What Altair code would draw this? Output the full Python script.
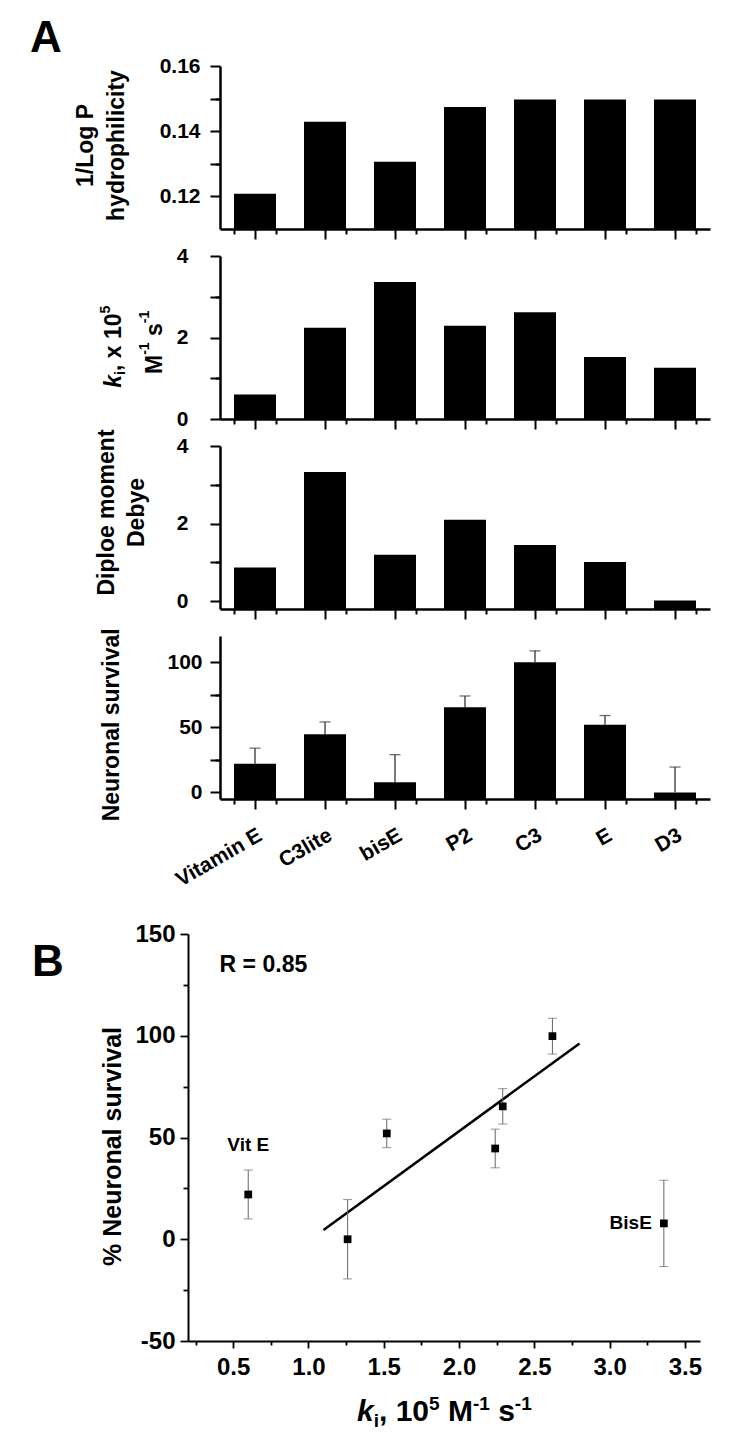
import altair as alt
import pandas as pd

# ---------------- data ----------------
categories = ["Vitamin E", "C3lite", "bisE", "P2", "C3", "E", "D3"]
hydrophilicity = [0.1208, 0.1429, 0.1306, 0.1474, 0.1497, 0.1497, 0.1497]
ki_values = [0.60, 2.24, 3.36, 2.29, 2.62, 1.52, 1.26]
dipole = [0.87, 3.33, 1.20, 2.10, 1.45, 1.01, 0.02]
survival = [22.0, 44.6, 7.8, 65.3, 99.8, 52.0, 0.0]
survival_err = [12.0, 9.5, 21.2, 8.7, 8.8, 7.0, 19.5]
point_labels = ["Vit E", "C3lite", "BisE", "P2", "C3", "E", "D3"]
in_fit = [False, True, False, True, True, True, True]

hydro_major, hydro_minor = [0.12, 0.14, 0.16], [0.13, 0.15]
ki_major, ki_minor = [0, 2, 4], [1, 3]
dip_major, dip_minor = [0, 2, 4], [1, 3]
surv_major, surv_minor = [0, 50, 100], [25, 75]
bx_major = [0.5, 1.0, 1.5, 2.0, 2.5, 3.0, 3.5]
bx_minor = [0.25, 0.75, 1.25, 1.75, 2.25, 2.75, 3.25]
by_major = [-50, 0, 50, 100, 150]
by_minor = [-25, 25, 75, 125]
r_text = ["R = 0.85"]
r_pos_x = [0.41]
r_pos_y = [135]

FONT = "Liberation Sans"
PH = 163
AW = 522
SHIFT = 32
BW, BH = 512, 407
GAP = 27

df = pd.DataFrame({
    "name": categories, "label": point_labels, "hydro": hydrophilicity,
    "ki": ki_values, "dipole": dipole, "surv": survival,
    "err": survival_err, "fit": in_fit,
})

ARIAL_BOLD = {"k": .556, "i": .278, ",": .278, " ": .278, "x": .556, "M": .833,
              "s": .556, "-": .333, "0": .556, "1": .556, "5": .556}


def rich_pieces(segments, start, base, angle):
    """Rich text (italic / sub / superscript) laid out piece by piece."""
    charts = []
    pos = 0.0
    for text, size, italic, shift in segments:
        lead = len(text) - len(text.lstrip(" "))
        pos += lead * ARIAL_BOLD[" "] * size
        text = text.lstrip(" ")
        if angle == 0:
            x, y = start + pos, base + shift
        else:
            x, y = base + shift, start - pos
        ch = alt.Chart(pd.DataFrame({"t": [text]})).mark_text(
            fontSize=size, fontWeight="bold",
            fontStyle="italic" if italic else "normal",
            align="left", baseline="alphabetic", angle=angle, color="black",
            font=FONT,
        ).encode(text="t:N", x=alt.value(x), y=alt.value(y))
        charts.append(ch)
        pos += sum(ARIAL_BOLD[c] for c in text) * size
    return charts


def letter(txt, x, y):
    return alt.Chart(pd.DataFrame({"t": [txt]})).mark_text(
        fontSize=44, fontWeight="bold", align="left", baseline="alphabetic",
        color="black", font=FONT,
    ).encode(text="t:N", x=alt.value(x), y=alt.value(y))


xscale = alt.Scale(domain=categories, range=[SHIFT, AW], paddingInner=0.4, paddingOuter=0.2)


def x_major(labels):
    return alt.X("name:N", sort=categories, scale=xscale, title=None,
                 axis=alt.Axis(orient="bottom", labels=labels, labelAngle=-30,
                               labelAlign="right", labelBaseline="top",
                               labelPadding=15, labelFontSize=21,
                               tickSize=10, tickWidth=2, domainWidth=2.5))


def x_minor():
    return alt.X("name:N", sort=categories, scale=xscale, title=None,
                 axis=alt.Axis(orient="bottom", labels=False, domain=False,
                               tickBand="extent", tickSize=5, tickWidth=2))


def x_none():
    return alt.X("name:N", sort=categories, scale=xscale, axis=None)


def bar_panel(field, domain, major, minor, fmt, pad, title_kw, letter_chart=None,
              show_labels=False, extra=None):
    yscale = alt.Scale(domain=domain, zero=False, nice=False)
    label_expr = f"indexof({major}, datum.value) >= 0 ? {fmt} : ''"
    y_major = alt.Y(f"{field}:Q", scale=yscale, stack=None,
                    axis=alt.Axis(orient="left", offset=-SHIFT, values=major + minor,
                                  labelExpr=label_expr, tickSize=10, tickWidth=2,
                                  domainWidth=2.5, labelPadding=pad, labelFontSize=21,
                                  **title_kw))
    y_minor = alt.Y(f"{field}:Q", scale=yscale,
                    axis=alt.Axis(orient="left", offset=-SHIFT, values=minor,
                                  labels=False, domain=False, tickSize=5,
                                  tickWidth=2, title=None))
    bars = alt.Chart(df).mark_bar(color="black").encode(
        x=x_major(show_labels), y=y_major, y2=alt.datum(domain[0]))
    minor_layer = alt.Chart(df).mark_point(opacity=0).encode(x=x_minor(), y=y_minor)
    layers = [bars, minor_layer]
    if extra:
        layers += extra
    if letter_chart is not None:
        layers.append(letter_chart)
    return alt.layer(*layers).resolve_axis(x="independent", y="independent").properties(
        width=AW, height=PH)


# Panel 1
p1 = bar_panel("hydro", [0.11, 0.16], hydro_major, hydro_minor,
               "format(datum.value, '.2f')", 10,
               dict(title=["1/Log P", "hydrophilicity"], titleAngle=270, titleX=-128,
                    titleY=79, titleAlign="center", titleBaseline="alphabetic",
                    titleLineHeight=31.6, titleFontSize=23),
               letter_chart=letter("A", -158, -14))

# Panel 2 (rich-text title)
ki_title = rich_pieces([("k", 23, True, 0), ("i", 14, False, 4),
                        (", x 10", 23, False, 0), ("5", 14, False, -11)],
                       start=131.7, base=-67, angle=270)
ki_title += rich_pieces([("M", 23, False, 0), ("-1", 14, False, -13),
                         (" s", 23, False, 0), ("-1", 14, False, -13)],
                        start=118, base=-26.3, angle=270)
p2 = bar_panel("ki", [0, 4], ki_major, ki_minor, "toString(datum.value)", 22,
               dict(title=None), extra=ki_title)

# Panel 3
p3 = bar_panel("dipole", [-0.2, 4], dip_major, dip_minor, "toString(datum.value)", 22,
               dict(title=["Diploe moment", "Debye"], titleAngle=270, titleX=-106.5,
                    titleY=66, titleAlign="center", titleBaseline="alphabetic",
                    titleLineHeight=30, titleFontSize=23))

# Panel 4 with error bars
err_base = alt.Chart(df).transform_calculate(hi="datum.surv + datum.err")
err_rule = err_base.mark_rule(color="#333333", strokeWidth=1.3).encode(
    x=x_none(), y=alt.Y("surv:Q", axis=None), y2="hi:Q")
err_cap = err_base.mark_tick(orient="horizontal", size=11, thickness=1.3,
                             color="#333333").encode(
    x=x_none(), y=alt.Y("hi:Q", axis=None))
p4 = bar_panel("surv", [-5, 120], surv_major, surv_minor, "toString(datum.value)", 8,
               dict(title="Neuronal survival", titleAngle=270, titleX=-101.7,
                    titleY=88.3, titleAlign="center", titleBaseline="alphabetic",
                    titleFontSize=23),
               show_labels=True, extra=[err_rule, err_cap])

# spacer between panel A and panel B
spacer = alt.Chart(df).mark_point(opacity=0).encode(
    x=alt.value(0), y=alt.value(0)).properties(width=10, height=135 - 2 * GAP)

# ---------------- Panel B ----------------
bxs = alt.Scale(domain=[0.2, 3.6], zero=False, nice=False)
bys = alt.Scale(domain=[-50, 150], zero=False, nice=False)

bx_major_enc = alt.X("ki:Q", scale=bxs, title=None,
                     axis=alt.Axis(orient="bottom", values=bx_major,
                                   labelExpr="format(datum.value, '.1f')",
                                   tickSize=7, tickWidth=1.8, domainWidth=2,
                                   labelPadding=7, labelFontSize=24))
by_major_enc = alt.Y("surv:Q", scale=bys,
                     axis=alt.Axis(orient="left", values=by_major,
                                   labelExpr="toString(datum.value)",
                                   tickSize=8, tickWidth=1.8, domainWidth=2,
                                   labelPadding=5, labelFontSize=24,
                                   title="% Neuronal survival", titleAngle=270,
                                   titleX=-68, titleY=212, titleAlign="center",
                                   titleBaseline="alphabetic", titleFontSize=25))

pts = alt.Chart(df).mark_square(size=60, color="black", opacity=1).encode(
    x=bx_major_enc, y=by_major_enc)
minor_b = alt.Chart(df).mark_point(opacity=0).encode(
    x=alt.X("ki:Q", scale=bxs, axis=alt.Axis(orient="bottom", values=bx_minor, labels=False,
                                              domain=False, tickSize=4, tickWidth=1.8,
                                              title=None)),
    y=alt.Y("surv:Q", scale=bys, axis=alt.Axis(orient="left", values=by_minor, labels=False,
                                                domain=False, tickSize=5, tickWidth=1.8,
                                                title=None)))

eb = alt.Chart(df).transform_calculate(lo="datum.surv - datum.err",
                                       hi="datum.surv + datum.err")
eb_rule = eb.mark_rule(color="#666666", strokeWidth=1).encode(
    x=alt.X("ki:Q", scale=bxs, axis=None), y=alt.Y("lo:Q", scale=bys, axis=None), y2="hi:Q")
eb_lo = eb.mark_tick(orient="horizontal", size=9, thickness=1, color="#666666").encode(
    x=alt.X("ki:Q", scale=bxs, axis=None), y=alt.Y("lo:Q", scale=bys, axis=None))
eb_hi = eb.mark_tick(orient="horizontal", size=9, thickness=1, color="#666666").encode(
    x=alt.X("ki:Q", scale=bxs, axis=None), y=alt.Y("hi:Q", scale=bys, axis=None))

fit_line = alt.Chart(df).transform_filter("datum.fit").transform_regression(
    "ki", "surv", extent=[1.1, 2.8]).mark_line(color="black", strokeWidth=2.5).encode(
    x=alt.X("ki:Q", scale=bxs, axis=None), y=alt.Y("surv:Q", scale=bys, axis=None))

vit_lbl = alt.Chart(df).transform_filter("datum.label == 'Vit E'").mark_text(
    fontSize=19, fontWeight="bold", dy=-49, baseline="middle", align="center",
    color="black", font=FONT).encode(
    x=alt.X("ki:Q", scale=bxs, axis=None), y=alt.Y("surv:Q", scale=bys, axis=None),
    text="label:N")
bis_lbl = alt.Chart(df).transform_filter("datum.label == 'BisE'").mark_text(
    fontSize=19, fontWeight="bold", dx=-12, baseline="middle", align="right",
    color="black", font=FONT).encode(
    x=alt.X("ki:Q", scale=bxs, axis=None), y=alt.Y("surv:Q", scale=bys, axis=None),
    text="label:N")
r_lbl = alt.Chart(pd.DataFrame({"x": r_pos_x, "y": r_pos_y, "t": r_text})).mark_text(
    fontSize=23, fontWeight="bold", align="left", baseline="middle", color="black",
    font=FONT).encode(
    x=alt.X("x:Q", scale=bxs, axis=None), y=alt.Y("y:Q", scale=bys, axis=None), text="t:N")

bx_title = rich_pieces([("k", 30, True, 0), ("i", 19, False, 6), (", 10", 30, False, 0),
                        ("5", 19, False, -11), (" M", 30, False, 0), ("-1", 19, False, -11),
                        (" s", 30, False, 0), ("-1", 19, False, -11)],
                       start=169, base=487, angle=0)

pB = alt.layer(fit_line, eb_rule, eb_lo, eb_hi, pts, minor_b, vit_lbl, bis_lbl, r_lbl,
               letter("B", -156, 42), *bx_title).resolve_axis(
    x="independent", y="independent").properties(width=BW, height=BH)

chart = alt.vconcat(p1, p2, p3, p4, spacer, pB, spacing=GAP, bounds="flush").properties(
    padding={"left": 22, "top": 9, "right": 10, "bottom": 10})

chart = chart.configure(font=FONT).configure_view(stroke=None).configure_axis(
    labelFont=FONT, titleFont=FONT, labelFontWeight="bold", titleFontWeight="bold",
    labelColor="black", titleColor="black", domainColor="black", tickColor="black",
    grid=False).configure_text(font=FONT)

chart.save("out.html", embed_options={"renderer": "svg", "actions": False})
